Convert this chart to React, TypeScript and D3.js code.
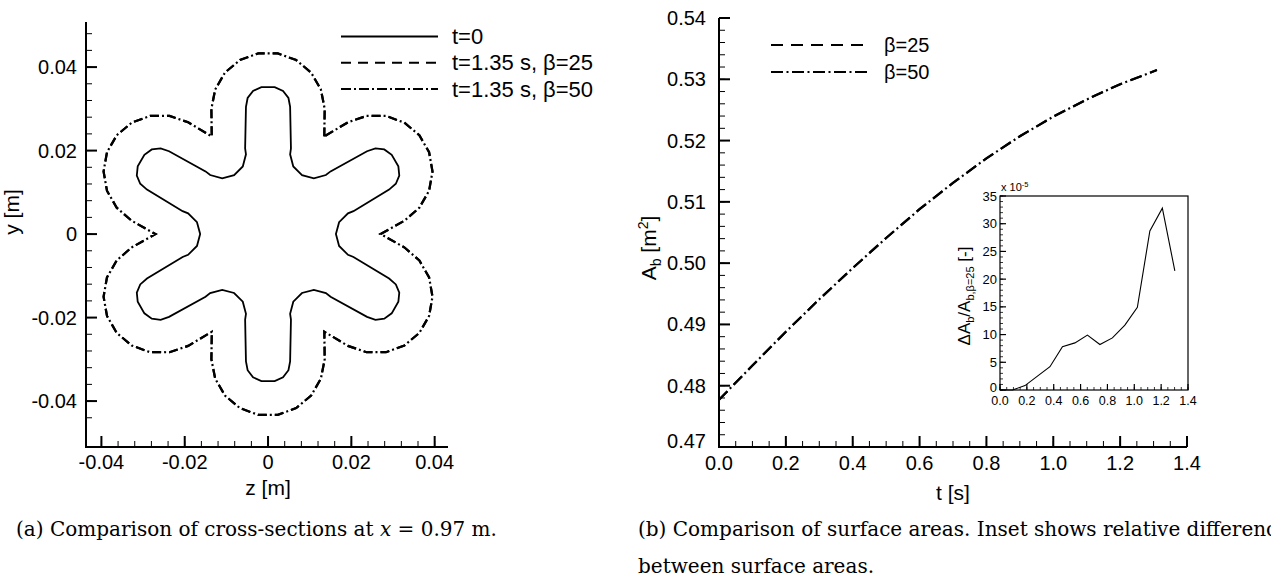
import React from "react";
import * as d3 from "d3";

const W = 1271;
const H = 579;

// (a) one sixth of each cross-section contour, [z, y] in m (top arm / lobe).
// the full contour is this sector repeated every 60 degrees.
const sectorT0: [number, number][] = [
  [0.00815, 0.01411],
  [0.00606, 0.0162],
  [0.0053, 0.0191],
  [0.0055, 0.0205],
  [0.0053, 0.0305],
  [0.0049, 0.0326],
  [0.0036, 0.0343],
  [0.0016, 0.0352],
  [-0.0016, 0.0352],
  [-0.0036, 0.0343],
  [-0.0049, 0.0326],
  [-0.0053, 0.0305],
  [-0.0055, 0.0205],
  [-0.0053, 0.0191],
  [-0.00606, 0.0162],
];
// t=1.35 s, both beta values give the same outline at this scale
const sectorBeta25: [number, number][] = [
  [0.0135, 0.0234],
  [0.0136, 0.03],
  [0.01269, 0.03462],
  [0.01034, 0.03868],
  [0.00675, 0.04169],
  [0.00234, 0.04329],
  [-0.00234, 0.04329],
  [-0.00675, 0.04169],
  [-0.01034, 0.03868],
  [-0.01269, 0.03462],
  [-0.0136, 0.03],
];
const sectorBeta50: [number, number][] = sectorBeta25;

const crossTicks = [-0.04, -0.02, 0, 0.02, 0.04];
const crossLegend = ["t=0", "t=1.35 s, \u03b2=25", "t=1.35 s, \u03b2=50"];

// (b) surface area
const timeS = [0, 0.1, 0.2, 0.3, 0.4, 0.5, 0.6, 0.7, 0.8, 0.9, 1.0, 1.1, 1.2, 1.31];
const areaBeta25 = [0.4777, 0.4833, 0.4888, 0.4941, 0.4992, 0.5041, 0.5088, 0.5131, 0.5171, 0.5207, 0.5239, 0.5267, 0.5292, 0.5315];
const areaBeta50 = [0.4777, 0.4833, 0.4888, 0.4941, 0.4992, 0.5041, 0.5088, 0.5131, 0.5171, 0.5207, 0.5239, 0.5267, 0.5292, 0.5315];
const areaXTicks = [0, 0.2, 0.4, 0.6, 0.8, 1.0, 1.2, 1.4];
const areaYTicks = [0.47, 0.48, 0.49, 0.5, 0.51, 0.52, 0.53, 0.54];

// inset: relative difference, x 1e-5
const insetTime = [0, 0.093, 0.186, 0.279, 0.372, 0.465, 0.558, 0.651, 0.744, 0.837, 0.93, 1.023, 1.116, 1.209, 1.302];
const insetDiff = [0, 0, 0.8, 2.5, 4.2, 7.8, 8.5, 9.9, 8.2, 9.4, 11.7, 14.9, 28.7, 32.8, 21.5];
const insetXTicks = [0, 0.2, 0.4, 0.6, 0.8, 1.0, 1.2, 1.4];
const insetYTicks = [0, 5, 10, 15, 20, 25, 30, 35];

const SANS = "Liberation Sans, Arial, sans-serif";
const SERIF = "DejaVu Serif, serif";

function sixFold(sector: [number, number][]) {
  const pts: [number, number][] = [];
  for (let k = 0; k < 6; k++) {
    const a = (k * Math.PI) / 3;
    const c = Math.cos(a), s = Math.sin(a);
    sector.forEach(([z, y]) => pts.push([z * c - y * s, z * s + y * c]));
  }
  return pts;
}

const DASH = "9 8";
const DASHDOT = "9 3 2 3";

export default function App() {
  // ---- left panel scales
  const cx = d3.scaleLinear().domain([-0.0437, 0.0432]).range([86, 448]);
  const cy = d3.scaleLinear().domain([-0.051, 0.0508]).range([447, 22]);
  const crossLine = d3
    .line<[number, number]>()
    .x((d) => cx(d[0]))
    .y((d) => cy(d[1]))
    .curve(d3.curveLinearClosed);
  const crossMinor = d3.range(-0.044, 0.0505, 0.004);

  // ---- right panel scales
  const ax = d3.scaleLinear().domain([0, 1.4]).range([719, 1187]);
  const ay = d3.scaleLinear().domain([0.47, 0.54]).range([447, 18]);
  const areaLine = (vals: number[]) =>
    d3
      .line<number>()
      .x((_, i) => ax(timeS[i]))
      .y((d) => ay(d))(vals) || "";
  const areaXMinor = d3.range(0, 1.401, 0.05);
  const areaYMinor = d3.range(0.47, 0.5401, 0.002);

  // ---- inset
  const ix = d3.scaleLinear().domain([0, 1.4]).range([1000, 1188]);
  const iy = d3.scaleLinear().domain([0, 35]).range([390, 196]);
  const insetPath =
    d3
      .line<number>()
      .x((_, i) => ix(insetTime[i]))
      .y((d) => iy(d))(insetDiff) || "";
  const insetXMinor = d3.range(0, 1.401, 0.05);
  const insetYMinor = d3.range(0, 35.01, 1);

  return (
    <svg
      width={W}
      height={H}
      style={{ position: "absolute", left: 0, top: 0, background: "#fff" }}
      fontFamily={SANS}
    >
      {/* ================= (a) ================= */}
      <g>
        <path d={crossLine(sixFold(sectorBeta25)) || ""} fill="none" stroke="#000" strokeWidth={2.2} strokeDasharray={DASH} />
        <path d={crossLine(sixFold(sectorBeta50)) || ""} fill="none" stroke="#000" strokeWidth={2.2} strokeDasharray={DASHDOT} />
        <path d={crossLine(sixFold(sectorT0)) || ""} fill="none" stroke="#000" strokeWidth={1.8} />

        {/* axes */}
        <line x1={cx.range()[0]} x2={cx.range()[0]} y1={cy.range()[0] + 1} y2={cy.range()[1]} stroke="#000" strokeWidth={2} />
        <line x1={cx.range()[0] - 1} x2={cx.range()[1]} y1={cy.range()[0]} y2={cy.range()[0]} stroke="#000" strokeWidth={2} />
        {crossMinor.map((v, i) => (
          <g key={"cm" + i}>
            {cy(v) > cy.range()[1] && cy(v) < cy.range()[0] && (
              <line x1={cx.range()[0]} x2={cx.range()[0] + 6} y1={cy(v)} y2={cy(v)} stroke="#000" strokeWidth={1} />
            )}
            {cx(v) > cx.range()[0] && cx(v) < cx.range()[1] + 1 && (
              <line x1={cx(v)} x2={cx(v)} y1={cy.range()[0]} y2={cy.range()[0] - 6} stroke="#000" strokeWidth={1} />
            )}
          </g>
        ))}
        {crossTicks.map((v) => (
          <g key={"ct" + v}>
            <line x1={cx.range()[0]} x2={cx.range()[0] + 11} y1={cy(v)} y2={cy(v)} stroke="#000" strokeWidth={2} />
            <line x1={cx(v)} x2={cx(v)} y1={cy.range()[0]} y2={cy.range()[0] - 11} stroke="#000" strokeWidth={2} />
            <text x={77} y={cy(v)} dy="0.35em" textAnchor="end" fontSize={20}>
              {v === 0 ? "0" : v.toFixed(2)}
            </text>
            <text x={cx(v)} y={469} textAnchor="middle" fontSize={20}>
              {v === 0 ? "0" : v.toFixed(2)}
            </text>
          </g>
        ))}
        <text x={cx(0)} y={495} textAnchor="middle" fontSize={21}>z [m]</text>
        <text transform={`translate(19,212) rotate(-90)`} textAnchor="middle" fontSize={21}>y [m]</text>

        {/* legend */}
        {crossLegend.map((label, i) => (
          <g key={label} transform={`translate(0,${36.5 + i * 26.3})`}>
            <line
              x1={341}
              x2={438}
              y1={0}
              y2={0}
              stroke="#000"
              strokeWidth={2}
              strokeDasharray={i === 0 ? undefined : i === 1 ? "10 7" : "10 3 2 3"}
            />
            <text x={452} y={7.5} fontSize={22}>{label}</text>
          </g>
        ))}
      </g>

      {/* ================= (b) ================= */}
      <g>
        <path d={areaLine(areaBeta25)} fill="none" stroke="#000" strokeWidth={2.2} strokeDasharray="12 9" />
        <path d={areaLine(areaBeta50)} fill="none" stroke="#000" strokeWidth={2.2} strokeDasharray="12 3.5 2 3.5" />

        <line x1={ax.range()[0]} x2={ax.range()[0]} y1={ay.range()[0] + 1} y2={ay.range()[1]} stroke="#000" strokeWidth={2} />
        <line x1={ax.range()[0] - 1} x2={ax.range()[1]} y1={ay.range()[0]} y2={ay.range()[0]} stroke="#000" strokeWidth={2} />
        {areaYMinor.map((v, i) => (
          <line key={"aym" + i} x1={ax.range()[0]} x2={ax.range()[0] + 6} y1={ay(v)} y2={ay(v)} stroke="#000" strokeWidth={1} />
        ))}
        {areaXMinor.map((v, i) => (
          <line key={"axm" + i} x1={ax(v)} x2={ax(v)} y1={ay.range()[0]} y2={ay.range()[0] - 6} stroke="#000" strokeWidth={1} />
        ))}
        {areaYTicks.map((v) => (
          <g key={"ay" + v}>
            <line x1={ax.range()[0]} x2={ax.range()[0] + 11} y1={ay(v)} y2={ay(v)} stroke="#000" strokeWidth={2} />
            <text x={706} y={ay(v) - (v === 0.47 ? 6 : 0)} dy="0.35em" textAnchor="end" fontSize={20}>
              {v.toFixed(2)}
            </text>
          </g>
        ))}
        {areaXTicks.map((v) => (
          <g key={"ax" + v}>
            <line x1={ax(v)} x2={ax(v)} y1={ay.range()[0]} y2={ay.range()[0] - 11} stroke="#000" strokeWidth={2} />
            <text x={ax(v)} y={470} textAnchor="middle" fontSize={20}>{v.toFixed(1)}</text>
          </g>
        ))}
        <text x={953} y={500} textAnchor="middle" fontSize={21}>t [s]</text>
        <text transform={`translate(656,248) rotate(-90)`} textAnchor="middle" fontSize={21}>
          A<tspan dy={5} fontSize={14}>b</tspan>
          <tspan dy={-5}> [m</tspan>
          <tspan dy={-8} fontSize={14}>2</tspan>
          <tspan dy={8}>]</tspan>
        </text>

        {/* legend */}
        {["\u03b2=25", "\u03b2=50"].map((label, i) => (
          <g key={label} transform={`translate(0,${45 + i * 27})`}>
            <line x1={771} x2={868} y1={0} y2={0} stroke="#000" strokeWidth={2} strokeDasharray={i === 0 ? "12 8" : "12 3.5 2 3.5"} />
            <text x={884} y={7} fontSize={20}>{label}</text>
          </g>
        ))}

        {/* ---------- inset ---------- */}
        <rect x={1000} y={196} width={188} height={194} fill="#fff" stroke="#000" strokeWidth={1.2} />
        <path d={insetPath} fill="none" stroke="#000" strokeWidth={1.1} />
        {insetYMinor.map((v, i) => (
          <line key={"iym" + i} x1={1000} x2={1003} y1={iy(v)} y2={iy(v)} stroke="#000" strokeWidth={0.8} />
        ))}
        {insetXMinor.map((v, i) => (
          <line key={"ixm" + i} x1={ix(v)} x2={ix(v)} y1={390} y2={387} stroke="#000" strokeWidth={0.8} />
        ))}
        {insetYTicks.map((v) => (
          <g key={"iy" + v}>
            <line x1={1000} x2={1006} y1={iy(v)} y2={iy(v)} stroke="#000" strokeWidth={1.2} />
            <text x={997} y={iy(v) - (v === 0 ? 3 : 0)} dy="0.35em" textAnchor="end" fontSize={13}>{v}</text>
          </g>
        ))}
        {insetXTicks.map((v) => (
          <g key={"ix" + v}>
            <line x1={ix(v)} x2={ix(v)} y1={390} y2={384} stroke="#000" strokeWidth={1.2} />
            <text x={ix(v)} y={405} textAnchor="middle" fontSize={12.5}>{v.toFixed(1)}</text>
          </g>
        ))}
        <text x={1001} y={191} fontSize={11}>
          x 10<tspan dy={-4} fontSize={7.5}>-5</tspan>
        </text>
        <text transform={`translate(970,296) rotate(-90)`} textAnchor="middle" fontSize={17}>
          {"\u0394A"}
          <tspan dy={4} fontSize={11}>b</tspan>
          <tspan dy={-4}>/A</tspan>
          <tspan dy={4} fontSize={11}>{"b,\u03b2=25"}</tspan>
          <tspan dy={-4}> [-]</tspan>
        </text>
      </g>

      {/* captions */}
      <g fontFamily={SERIF} fontSize={20}>
        <text x={16} y={536}>
          (a) Comparison of cross-sections at <tspan fontStyle="italic">x</tspan> = 0.97 m.
        </text>
        <text x={638} y={536}>(b) Comparison of surface areas. Inset shows relative differenc</text>
        <text x={638} y={573}>between surface areas.</text>
      </g>
    </svg>
  );
}
